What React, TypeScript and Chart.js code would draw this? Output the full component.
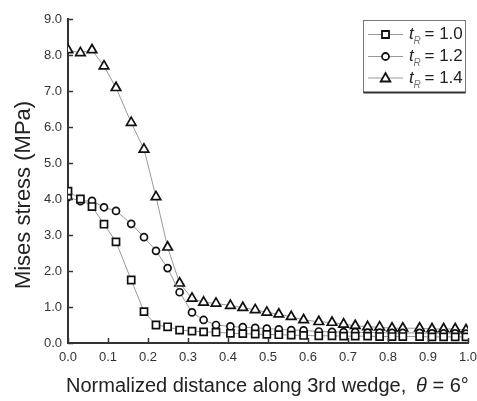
import React, { useEffect, useRef } from "react";
import { Chart, registerables } from "chart.js";

Chart.register(...registerables);

const xValues = [0, 0.031, 0.06, 0.09, 0.12, 0.158, 0.19, 0.22, 0.249, 0.279, 0.31, 0.339, 0.37, 0.406, 0.437, 0.468, 0.497, 0.527, 0.558, 0.589, 0.627, 0.66, 0.689, 0.718, 0.749, 0.779, 0.81, 0.837, 0.879, 0.91, 0.939, 0.968, 0.995];
const stressT10 = [4.22, 4.0, 3.79, 3.3, 2.81, 1.75, 0.87, 0.5, 0.45, 0.36, 0.33, 0.31, 0.3, 0.27, 0.26, 0.25, 0.24, 0.23, 0.22, 0.21, 0.2, 0.2, 0.19, 0.19, 0.19, 0.18, 0.18, 0.18, 0.18, 0.17, 0.17, 0.17, 0.17];
const stressT12 = [4.05, 3.94, 3.95, 3.77, 3.67, 3.31, 2.94, 2.56, 2.08, 1.41, 0.85, 0.64, 0.5, 0.46, 0.44, 0.42, 0.4, 0.38, 0.36, 0.35, 0.32, 0.31, 0.3, 0.3, 0.29, 0.29, 0.28, 0.28, 0.28, 0.27, 0.27, 0.27, 0.26];
const stressT14 = [8.14, 8.06, 8.14, 7.69, 7.09, 6.12, 5.38, 4.06, 2.66, 1.66, 1.24, 1.13, 1.1, 1.04, 0.98, 0.92, 0.85, 0.8, 0.73, 0.64, 0.59, 0.57, 0.52, 0.48, 0.45, 0.44, 0.41, 0.41, 0.41, 0.39, 0.39, 0.39, 0.36];
const seriesLabels = ["1.0", "1.2", "1.4"];
const seriesMarkers = ["rect", "circle", "triangle"];
const xTickValues = [0, 0.1, 0.2, 0.3, 0.4, 0.5, 0.6, 0.7, 0.8, 0.9, 1.0];
const yTickValues = [0, 1, 2, 3, 4, 5, 6, 7, 8, 9];
const yTitle = "Mises stress (MPa)";
const xTitleMain = "Normalized distance along 3rd wedge,";
const xTitleSymbol = "θ";
const xTitleTail = " = 6°";

const FONT = "'Liberation Sans', Arial, sans-serif";

function drawMarker(ctx: CanvasRenderingContext2D, kind: string, x: number, y: number) {
  ctx.save();
  ctx.strokeStyle = "#111";
  ctx.lineWidth = 1.8;
  ctx.fillStyle = "#fff";
  ctx.beginPath();
  if (kind === "rect") {
    ctx.rect(x - 3.5, y - 3.5, 7, 7);
  } else if (kind === "circle") {
    ctx.arc(x, y, 3.5, 0, Math.PI * 2);
  } else {
    ctx.moveTo(x, y - 5);
    ctx.lineTo(x + 4.8, y + 3.5);
    ctx.lineTo(x - 4.8, y + 3.5);
    ctx.closePath();
  }
  ctx.fill();
  ctx.stroke();
  ctx.restore();
}

const decorPlugin = {
  id: "decor",
  afterDraw(chart: any) {
    const ctx: CanvasRenderingContext2D = chart.ctx;
    const xs = chart.scales.x;
    const ys = chart.scales.y;
    const area = chart.chartArea;
    ctx.save();
    // inward ticks
    ctx.strokeStyle = "#333";
    ctx.lineWidth = 1.5;
    for (const v of xTickValues) {
      const px = Math.round(xs.getPixelForValue(v)) + 0.5;
      ctx.beginPath();
      ctx.moveTo(px, area.bottom);
      ctx.lineTo(px, area.bottom - 5);
      ctx.stroke();
    }
    for (const v of yTickValues) {
      const py = Math.round(ys.getPixelForValue(v)) + 0.5;
      ctx.beginPath();
      ctx.moveTo(area.left, py);
      ctx.lineTo(area.left + 5, py);
      ctx.stroke();
    }
    // y title
    ctx.fillStyle = "#222";
    ctx.font = `22px ${FONT}`;
    ctx.textAlign = "center";
    ctx.textBaseline = "middle";
    ctx.save();
    ctx.translate(24, 195);
    ctx.rotate(-Math.PI / 2);
    ctx.fillText(yTitle, 0, 0);
    ctx.restore();
    // x title
    ctx.textAlign = "left";
    ctx.textBaseline = "middle";
    const ty = 386;
    ctx.font = `20px ${FONT}`;
    ctx.fillText(xTitleMain, 66, ty);
    let tx = 416;
    ctx.font = `italic 20px ${FONT}`;
    ctx.fillText(xTitleSymbol, tx, ty);
    tx += ctx.measureText(xTitleSymbol).width;
    ctx.font = `20px ${FONT}`;
    ctx.fillText(xTitleTail, tx, ty);
    // legend
    const bx = 363.5, by = 20.5, bw = 102, bh = 72;
    ctx.fillStyle = "#fff";
    ctx.fillRect(bx, by, bw, bh);
    ctx.strokeStyle = "#777";
    ctx.lineWidth = 1;
    ctx.strokeRect(bx, by, bw, bh);
    ctx.strokeStyle = "#333";
    ctx.lineWidth = 2;
    ctx.beginPath();
    ctx.moveTo(bx, by + bh);
    ctx.lineTo(bx + bw, by + bh);
    ctx.stroke();
    const rows = [34.5, 56.5, 78];
    for (let i = 0; i < 3; i++) {
      const ry = rows[i];
      ctx.strokeStyle = "#999";
      ctx.lineWidth = 1;
      ctx.beginPath();
      ctx.moveTo(368, ry);
      ctx.lineTo(403, ry);
      ctx.stroke();
      drawMarker(ctx, seriesMarkers[i], 385.5, ry);
      ctx.fillStyle = "#222";
      ctx.textBaseline = "middle";
      ctx.font = `italic 17px ${FONT}`;
      ctx.fillText("t", 409, ry);
      ctx.fillStyle = "#777";
      ctx.font = `italic 10px ${FONT}`;
      ctx.fillText("R", 413.5, ry + 7);
      ctx.fillStyle = "#222";
      ctx.font = `17px ${FONT}`;
      ctx.fillText("= " + seriesLabels[i], 424.5, ry);
    }
    ctx.restore();
  },
};

function toPoints(ys: number[]) {
  return ys.map((y, i) => ({ x: xValues[i], y }));
}

export default function App() {
  const ref = useRef<HTMLCanvasElement>(null);
  useEffect(() => {
    if (!ref.current) return;
    const common = {
      showLine: true,
      borderColor: "#999",
      borderWidth: 1,
      pointBorderColor: "#111",
      pointBackgroundColor: "#fff",
      pointBorderWidth: 1.7,
      tension: 0,
    };
    const chart = new Chart(ref.current, {
      type: "scatter",
      data: {
        datasets: [
          { ...common, label: "tR = 1.0", data: toPoints(stressT10), pointStyle: "rect", pointRadius: 5 },
          { ...common, label: "tR = 1.2", data: toPoints(stressT12), pointStyle: "circle", pointRadius: 3.5 },
          { ...common, label: "tR = 1.4", data: toPoints(stressT14), pointStyle: "triangle", pointRadius: 5.5 },
        ],
      },
      options: {
        responsive: false,
        animation: false,
        layout: { padding: { top: 19, right: 9, left: 0, bottom: 0 } },
        plugins: { legend: { display: false }, tooltip: { enabled: false }, title: { display: false } },
        scales: {
          x: {
            type: "linear",
            min: 0,
            max: 1,
            afterBuildTicks: (s: any) => { s.ticks = xTickValues.map((v) => ({ value: v })); },
            ticks: {
              autoSkip: false,
              maxRotation: 0,
              padding: 7,
              color: "#333",
              font: { family: FONT, size: 13 },
              callback: (v: any) => Number(v).toFixed(1),
            },
            grid: { display: false, drawTicks: false },
            border: { display: true, color: "#333", width: 2 },
            afterFit: (s: any) => { s.height = 58; s.paddingLeft = 0; s.paddingRight = 0; },
          },
          y: {
            type: "linear",
            min: 0,
            max: 9,
            afterBuildTicks: (s: any) => { s.ticks = yTickValues.map((v) => ({ value: v })); },
            ticks: {
              autoSkip: false,
              padding: 6,
              color: "#333",
              font: { family: FONT, size: 13 },
              callback: (v: any) => Number(v).toFixed(1),
            },
            grid: { display: false, drawTicks: false },
            border: { display: true, color: "#333", width: 2 },
            afterFit: (s: any) => { s.width = 68; s.paddingTop = 0; s.paddingBottom = 0; },
          },
        },
      },
      plugins: [decorPlugin],
    } as any);
    return () => chart.destroy();
  }, []);
  return (
    <div style={{ position: "fixed", left: 0, top: 0, width: 477, height: 401, background: "#fff" }}>
      <canvas ref={ref} width={477} height={401} style={{ display: "block" }} />
    </div>
  );
}
